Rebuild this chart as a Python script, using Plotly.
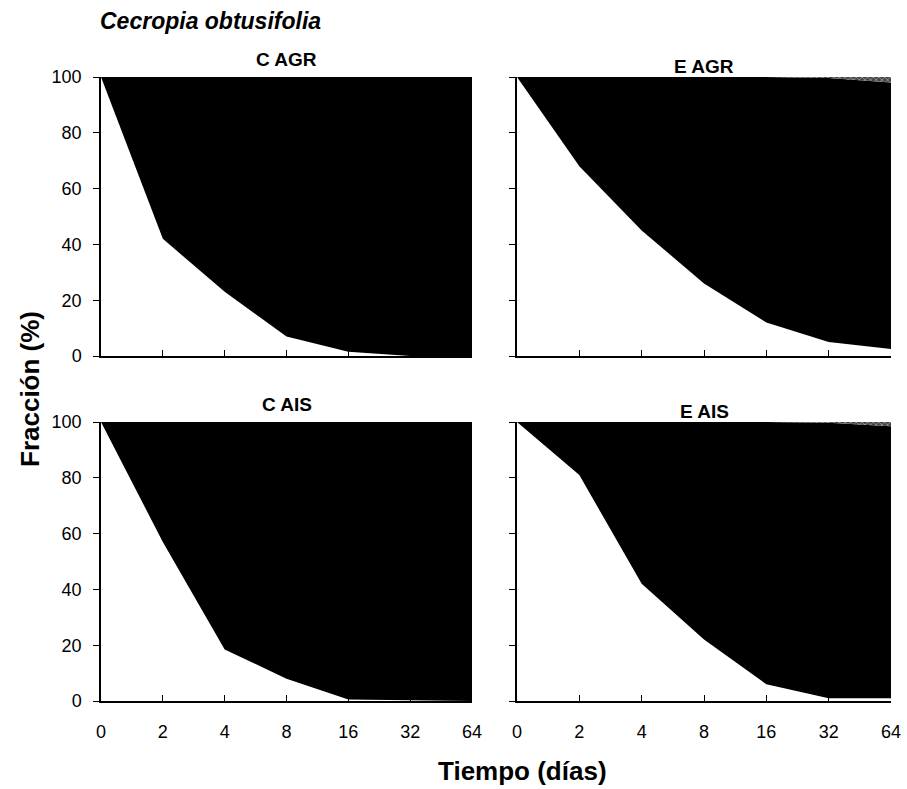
import plotly.graph_objects as go

# Sampling days (plotted on equally spaced category positions)
dias = ["0", "2", "4", "8", "16", "32", "64"]

# Remaining fraction (%) per treatment
c_agr_rest = [100, 42, 23, 7, 1.5, 0, 0]
e_agr_rest = [100, 68, 45, 26, 12, 5, 2.5]
c_ais_rest = [100, 57, 18.5, 8, 0.5, 0.3, 0]
e_ais_rest = [100, 81, 42, 22, 6, 1, 1]

# Upper limit of the dark fraction (the rest up to 100 is the hatched fraction)
c_agr_top = [100, 100, 100, 100, 100, 100, 100]
e_agr_top = [100, 100, 100, 100, 100, 99.6, 98]
c_ais_top = [100, 100, 100, 100, 100, 100, 100]
e_ais_top = [100, 100, 100, 100, 100, 99.7, 98.5]

paneles = [
    ("C AGR", c_agr_rest, c_agr_top, "x", "y"),
    ("E AGR", e_agr_rest, e_agr_top, "x2", "y2"),
    ("C AIS", c_ais_rest, c_ais_top, "x3", "y3"),
    ("E AIS", e_ais_rest, e_ais_top, "x4", "y4"),
]

W, H = 907, 789
fig = go.Figure()
pos = list(range(len(dias)))

for nombre, rest, top, xa, ya in paneles:
    oscuro = [t - r for t, r in zip(top, rest)]
    rayado = [100 - t for t in top]
    fig.add_trace(go.Scatter(x=pos, y=rest, stackgroup=nombre, mode="none",
                             fillcolor="white", xaxis=xa, yaxis=ya, showlegend=False))
    fig.add_trace(go.Scatter(x=pos, y=oscuro, stackgroup=nombre, mode="none",
                             fillcolor="black", xaxis=xa, yaxis=ya, showlegend=False))
    fig.add_trace(go.Scatter(x=pos, y=rayado, stackgroup=nombre, mode="none",
                             fillcolor="#555555",
                             fillpattern=dict(shape="x", fgcolor="#dddddd", bgcolor="#444444",
                                              size=4, solidity=0.4),
                             xaxis=xa, yaxis=ya, showlegend=False))

xl = [101 / W, 472 / W]
xr = [517 / W, 891 / W]
yt = [1 - 356 / H, 1 - 77 / H]
yb = [1 - 701 / H, 1 - 422 / H]

tickfont = dict(family="Liberation Sans, Arial", size=18, color="black")

def xaxis(domain, anchor, labels):
    return dict(domain=domain, anchor=anchor, range=[0, 6], tickvals=pos, ticktext=dias,
                showticklabels=labels, ticks="inside", ticklen=6, tickwidth=1.2,
                tickcolor="black", showline=True, linecolor="black", linewidth=1.5,
                showgrid=False, zeroline=False, tickfont=tickfont, fixedrange=True,
                automargin=False, ticklabelstandoff=14)

def yaxis(domain, anchor, labels):
    return dict(domain=domain, anchor=anchor, range=[0, 100], tickvals=[0, 20, 40, 60, 80, 100],
                showticklabels=labels, ticks="outside", ticklen=6, tickwidth=1.2,
                tickcolor="black", showline=True, linecolor="black", linewidth=1.5,
                showgrid=False, zeroline=False, tickfont=tickfont, fixedrange=True,
                automargin=False, ticklabelstandoff=8)

fig.update_layout(
    width=W, height=H,
    margin=dict(l=0, r=0, t=0, b=0),
    paper_bgcolor="white", plot_bgcolor="white",
    xaxis=xaxis(xl, "y", False), yaxis=yaxis(yt, "x", True),
    xaxis2=xaxis(xr, "y2", False), yaxis2=yaxis(yt, "x2", False),
    xaxis3=xaxis(xl, "y3", True), yaxis3=yaxis(yb, "x3", True),
    xaxis4=xaxis(xr, "y4", True), yaxis4=yaxis(yb, "x4", False),
)

bold = dict(family="Liberation Sans, Arial", color="black")
cx_l = (xl[0] + xl[1]) / 2
cx_r = (xr[0] + xr[1]) / 2
anots = [
    dict(text="<b><i>Cecropia obtusifolia</i></b>", x=98 / W, y=1 - 21 / H, xanchor="left",
         font=dict(size=23, **bold)),
    dict(text="<b>C AGR</b>", x=cx_l, y=1 - 59 / H, font=dict(size=19, **bold)),
    dict(text="<b>E AGR</b>", x=cx_r, y=1 - 66 / H, font=dict(size=19, **bold)),
    dict(text="<b>C AIS</b>", x=cx_l, y=1 - 404 / H, font=dict(size=19, **bold)),
    dict(text="<b>E AIS</b>", x=cx_r, y=1 - 411 / H, font=dict(size=19, **bold)),
    dict(text="<b>Fracción (%)</b>", x=30 / W, y=1 - 389 / H, textangle=-90,
         font=dict(size=26, **bold)),
    dict(text="<b>Tiempo (días)</b>", x=522 / W, y=1 - 771 / H, font=dict(size=26, **bold)),
]
for a in anots:
    a.update(xref="paper", yref="paper", showarrow=False, yanchor="middle")
    a.setdefault("xanchor", "center")
    fig.add_annotation(**a)

fig.write_html("out.html")
